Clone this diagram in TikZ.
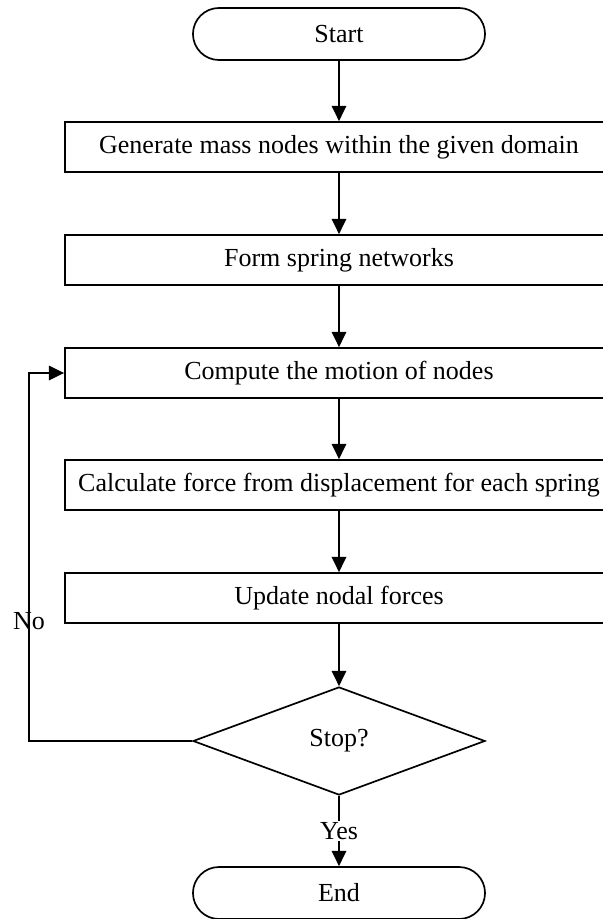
\documentclass[tikz,border=0pt]{standalone}
\usepackage{fontspec}
\setmainfont{Liberation Serif}
\usetikzlibrary{arrows.meta, positioning, shapes.geometric}

\begin{document}
\begin{tikzpicture}[
    x=0.025cm, y=-0.025cm,
    >={Triangle[length=0.38cm, width=0.36cm]},
    arr/.style={->, line width=1.2pt},
    lbl/.style={font=\fontsize{18.5}{22}\selectfont},
    proc/.style={draw, line width=1.2pt, minimum width=13.7cm, minimum height=1.25cm, inner sep=0pt, font=\fontsize{18.5}{22}\selectfont},
    term/.style={draw, line width=1.2pt, rounded corners=0.65cm, minimum width=7.3cm, minimum height=1.3cm, inner sep=0pt, font=\fontsize{18.5}{22}\selectfont},
    dec/.style={draw, diamond, line width=1.2pt, minimum width=7.3cm, minimum height=2.7cm, inner sep=0pt, font=\fontsize{18.5}{22}\selectfont},
]
\clip (0,0) rectangle (603,919);
% --- nodes ---
\node[term] (start) at (339, 34) {Start};
\node[proc] (gen) at (339, 147) {Generate mass nodes within the given domain};
\node[proc] (form) at (339, 260) {Form spring networks};
\node[proc] (motion) at (339, 373) {Compute the motion of nodes};
\node[proc] (force) at (339, 485) {Calculate force from displacement for each spring};
\node[proc] (update) at (339, 598) {Update nodal forces};
\node[dec] (stop) at (339, 741) {Stop?};
\node[term] (end) at (339, 893) {End};
% --- main flow ---
\draw[arr] (start) -- (gen);
\draw[arr] (gen) -- (form);
\draw[arr] (form) -- (motion);
\draw[arr] (motion) -- (force);
\draw[arr] (force) -- (update);
\draw[arr] (update) -- (stop);
\draw[arr] (stop) -- node[lbl, fill=white, inner sep=1pt] (yes) {Yes} (end);
% --- loop back ---
\coordinate (corner) at (29, 741);
\draw[arr] (stop.west) -- (corner) |- (motion.west);
\node[lbl] (no) at (29, 621) {No};
\end{tikzpicture}
\end{document}
